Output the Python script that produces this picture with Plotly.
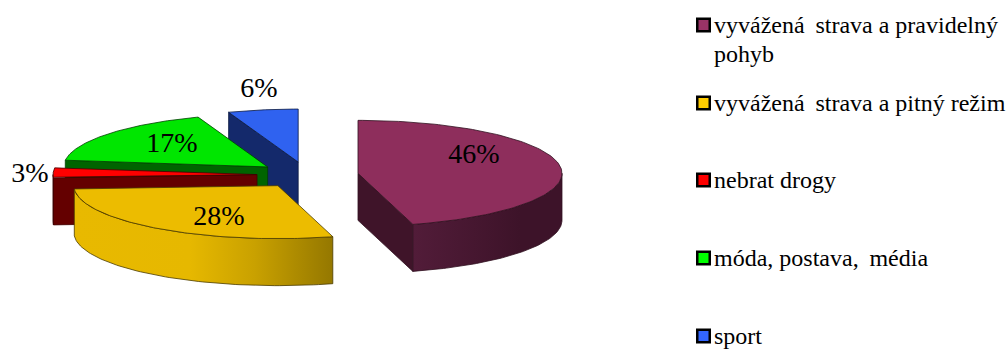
import numpy as np
import plotly.graph_objects as go

# Survey shares, clockwise from twelve o'clock
categories = [
    "vyvážená strava a pravidelný",
    "vyvážená strava a pitný režim",
    "nebrat drogy",
    "móda, postava, média",
    "sport",
]
values = [46, 28, 3, 17, 6]
top_colors = ["#8e2e5c", "#ecbc00", "#ff0000", "#00e600", "#2f62f0"]
side_colors = ["#3f1429", "#e8b900", "#640000", "#006400", "#14296b"]
legend_colors = ["#993366", "#ffcc00", "#ff0000", "#00ff00", "#3366ff"]
edge_colors = ["#30101f", "#4a3b00", "#400000", "#004000", "#0c1a40"]

# Oblique projection of the pie, in plot units equal to pixels
CX, CY = 307.7, 175.0
RX, RY = 204.0, 53.0
DEPTH = 47.0
EXPLODE = 0.2485
SKEW = 5.2  # foreshortening of projected angles, degrees
FONT = "Liberation Serif"
WALL_GRADIENTS = {
    0: [413, 520, [[0, "#521c39"], [1, "#3d1329"]]],
    1: [74, 332, [[0, "#e8b900"], [0.45, "#e6b800"], [0.7, "#c9a100"], [1, "#957800"]]],
}


def ellipse(theta, ox, oy):
    r = np.radians(theta)
    t = r - np.radians(SKEW) * np.sin(r) * np.cos(r) ** 2
    return ox + RX * np.sin(t), oy - RY * np.cos(t)


def polygon(xs, ys, fill, edge, gradient=None):
    kw = dict(
        x=np.append(xs, xs[0]), y=np.append(ys, ys[0]),
        mode="lines", fill="toself", line=dict(color=edge, width=0.8),
        showlegend=False, hoverinfo="skip",
    )
    if gradient:
        kw["fillgradient"] = dict(
            type="horizontal", start=gradient[0], stop=gradient[1], colorscale=gradient[2]
        )
    else:
        kw["fillcolor"] = fill
    return go.Scatter(**kw)


fig = go.Figure()
edges = np.cumsum([0] + values) / sum(values) * 360.0
slices = []
for i in range(len(values)):
    a0, a1 = edges[i], edges[i + 1]
    mid = np.radians((a0 + a1) / 2)
    ox = CX + EXPLODE * RX * np.sin(mid)
    oy = CY - EXPLODE * RY * np.cos(mid)
    slices.append((i, a0, a1, ox, oy))

# Painter's order: rear slices first, the front wedge last
for i, a0, a1, ox, oy in [slices[k] for k in (4, 3, 2, 0, 1)]:
    # radial wall on the leading cut
    if 180 < a0 < 360:
        sx, sy = ellipse(a0, ox, oy)
        fig.add_trace(polygon(
            np.array([ox, sx, sx, ox]),
            np.array([oy, sy, sy + DEPTH, oy + DEPTH]),
            side_colors[i], edge_colors[i],
        ))
    if a1 < 180:
        ex, ey = ellipse(a1, ox, oy)
        fig.add_trace(polygon(
            np.array([ox, ex, ex, ox]),
            np.array([oy, ey, ey + DEPTH, oy + DEPTH]),
            side_colors[i], edge_colors[i],
        ))
    # outer rim, only the part that faces the viewer
    lo, hi = max(a0, 90.0), min(a1, 270.0)
    if lo < hi:
        t = np.linspace(lo, hi, 80)
        ax, ay = ellipse(t, ox, oy)
        fig.add_trace(polygon(
            np.concatenate([ax, ax[::-1]]),
            np.concatenate([ay, ay[::-1] + DEPTH]),
            side_colors[i], edge_colors[i], WALL_GRADIENTS.get(i),
        ))
    # top face
    t = np.linspace(a0, a1, 120)
    ax, ay = ellipse(t, ox, oy)
    fig.add_trace(polygon(
        np.concatenate([[ox], ax]), np.concatenate([[oy], ay]),
        top_colors[i], edge_colors[i],
    ))

# Percentage labels beside or on the slices
label_x = [474, 219, 30, 172, 259]
label_y = [156, 218, 175, 145, 90]
fig.add_trace(go.Scatter(
    x=label_x, y=label_y, mode="text",
    text=[f"{v}%" for v in values],
    textposition="middle center",
    textfont=dict(family=FONT, size=28, color="#000000"),
    showlegend=False, hoverinfo="skip",
))

# Legend column: square key plus serif caption
key_y = [25, 103, 180, 258, 336]
fig.add_trace(go.Scatter(
    x=[703.5] * len(key_y), y=key_y, mode="markers",
    marker=dict(symbol="square", size=12.5, color=legend_colors,
                line=dict(color="#000000", width=2.5)),
    showlegend=False, hoverinfo="skip",
))
captions = list(categories)
captions[0] = "vyvážená\u2009 strava a pravidelný"
captions[1] = "vyvážená\u2009 strava a pitný režim"
captions[3] = "móda, postava,\u2009 média"
annotations = [
    dict(x=712, y=y, text=c, showarrow=False, xanchor="left", yanchor="middle",
         font=dict(family=FONT, size=24, color="#000000"))
    for c, y in zip(captions, key_y)
]
annotations.append(dict(x=712, y=54, text="pohyb", showarrow=False, xanchor="left",
                        yanchor="middle", font=dict(family=FONT, size=24, color="#000000")))

fig.update_layout(
    width=1008, height=349,
    margin=dict(l=0, r=0, t=0, b=0),
    paper_bgcolor="#ffffff", plot_bgcolor="#ffffff",
    xaxis=dict(range=[0, 1008], visible=False, fixedrange=True),
    yaxis=dict(range=[349, 0], visible=False, fixedrange=True),
    annotations=annotations,
    showlegend=False,
)
fig.write_html("out.html", config={"displayModeBar": False})
